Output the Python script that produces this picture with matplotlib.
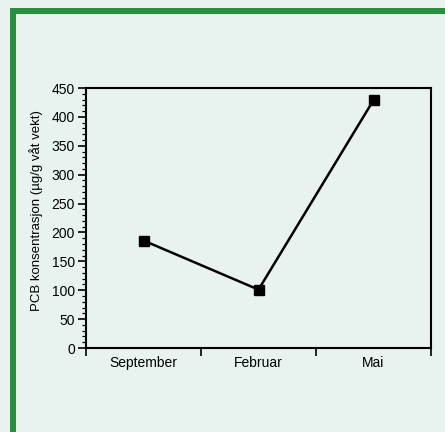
import matplotlib
matplotlib.use("Agg")
import matplotlib.pyplot as plt
from matplotlib.patches import Rectangle
from matplotlib.ticker import MultipleLocator, FixedLocator

categories = ["September", "Februar", "Mai"]
values = [186, 101, 429]
y_ticks = [0, 50, 100, 150, 200, 250, 300, 350, 400, 450]

plt.rcParams["font.family"] = ["Liberation Sans", "DejaVu Sans"]

W, H = 445, 432
bg = "#e8f3ef"
fig = plt.figure(figsize=(W / 100, H / 100), dpi=100, facecolor=bg)

# green border (left and top)
green = "#2a8f3c"
fig.patches.append(Rectangle((10 / W, 0), 6 / W, 1 - 8 / H, transform=fig.transFigure,
                             facecolor=green, edgecolor="none"))
fig.patches.append(Rectangle((10 / W, 1 - 14 / H), 1 - 10 / W, 6 / H, transform=fig.transFigure,
                             facecolor=green, edgecolor="none"))

ax = fig.add_axes([86 / W, 1 - 348 / H, (431 - 86) / W, (348 - 88) / H])
ax.set_facecolor(bg)

x = list(range(len(categories)))
ax.plot(x, values, color="black", lw=1.8, marker="s", markersize=7,
        markerfacecolor="black", markeredgecolor="black")

ax.set_xlim(-0.5, len(categories) - 0.5)
ax.set_ylim(0, 450)
ax.set_yticks(y_ticks)
ax.yaxis.set_minor_locator(MultipleLocator(10))
ax.xaxis.set_major_locator(FixedLocator([-0.5, 0.5, 1.5, 2.5]))
ax.xaxis.set_major_formatter(plt.NullFormatter())
ax.xaxis.set_minor_locator(FixedLocator(x))
ax.set_xticklabels(categories, minor=True)
ax.tick_params(axis="x", which="minor", length=0, pad=6, labelsize=10)
ax.tick_params(axis="x", which="major", length=6, width=1.2, direction="out")
ax.tick_params(axis="y", which="major", length=6, width=1.2, labelsize=10, pad=2)
ax.tick_params(axis="y", which="minor", length=3, width=0.9)
for s in ax.spines.values():
    s.set_linewidth(1.5)
ax.set_ylabel("PCB konsentrasjon (µg/g våt vekt)", fontsize=9.5, labelpad=6)
ax.yaxis.label.set_y(0.53)

fig.savefig("out.png", dpi=100, facecolor=bg)
